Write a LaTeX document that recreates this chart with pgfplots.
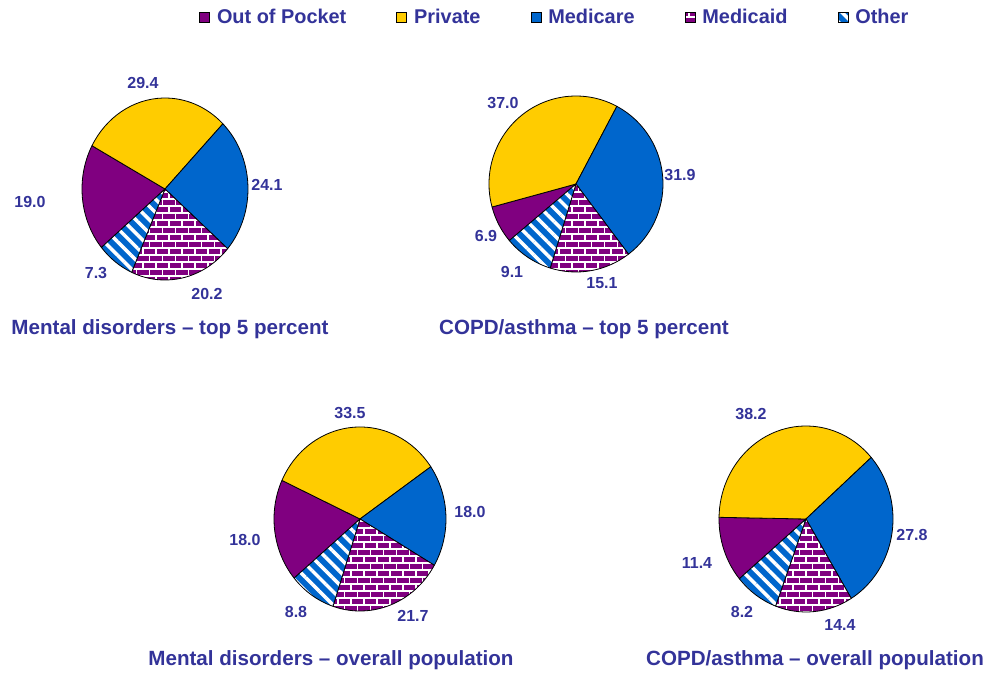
\documentclass[border=0pt]{standalone}
\usepackage{fontspec}
\setmainfont{Liberation Sans}
\usepackage{pgfplots}
\usepackage{pgfplotstable}
\pgfplotsset{compat=1.18}
\usetikzlibrary{patterns,patterns.meta}

\definecolor{oop}{RGB}{128,0,128}
\definecolor{priv}{RGB}{255,204,0}
\definecolor{mcare}{RGB}{0,102,204}
\definecolor{mcaid}{RGB}{128,0,128}
\definecolor{txt}{RGB}{51,51,153}

% brick pattern for Medicaid
\pgfdeclarepatternformonly{bricks13}{\pgfqpoint{-1pt}{-1pt}}{\pgfqpoint{14pt}{15pt}}{\pgfqpoint{13pt}{14pt}}{%
  \pgfsetlinewidth{1.4pt}%
  \pgfpathmoveto{\pgfqpoint{-1pt}{0pt}}\pgfpathlineto{\pgfqpoint{14pt}{0pt}}%
  \pgfpathmoveto{\pgfqpoint{-1pt}{7pt}}\pgfpathlineto{\pgfqpoint{14pt}{7pt}}%
  \pgfpathmoveto{\pgfqpoint{0pt}{0pt}}\pgfpathlineto{\pgfqpoint{0pt}{7pt}}%
  \pgfpathmoveto{\pgfqpoint{6.5pt}{7pt}}\pgfpathlineto{\pgfqpoint{6.5pt}{14pt}}%
  \pgfusepath{stroke}}

% shares in percent; slices run clockwise from 220 degrees
\pgfplotstableread{
source   mdtop copdtop mdall copdall
OOP      19.0  6.9     18.0  11.4
Private  29.4  37.0    33.5  38.2
Medicare 24.1  31.9    18.0  27.8
Medicaid 20.2  15.1    21.7  14.4
Other    7.3   9.1     8.8   8.2
}\shares

% label positions (pixels from top left)
\pgfplotstableread{
mdtopx mdtopy copdtopx copdtopy mdallx mdally copdallx copdally
30     202    486      236      245    540    697      563
143    83     503      103      350    413    751      414
267    185    680      175      470    512    912      535
207    294    602      283      413    616    840      625
96     273    512      272      296    612    742      612
}\labelpos

\tikzset{
  slice0/.style={fill=oop},
  slice1/.style={fill=priv},
  slice2/.style={fill=mcare},
  slice3/.style={fill=mcaid, postaction={pattern=bricks13, pattern color=white}},
  slice4/.style={fill=mcare, postaction={pattern={Lines[angle=-45,distance=9.5pt,line width=3.5pt]}, pattern color=white}},
  lbl/.style={font=\fontsize{16}{18}\selectfont\bfseries, text=txt, inner sep=0pt, anchor=center},
  ttl/.style={font=\fontsize{20.6}{24}\selectfont\bfseries, text=txt, inner sep=0pt, anchor=base},
}

% #1 column, #2 cx, #3 cy (from top), #4 rx, #5 ry
\newcommand\pie[5]{%
  \pgfplotsextra{%
    \pgfmathsetmacro\cx{#2}%
    \pgfmathsetmacro\cy{675-#3}%
    \gdef\ang{220}%
    \foreach \r in {0,...,4}{%
      \pgfplotstablegetelem{\r}{#1}\of\shares
      \pgfmathsetmacro\aend{\ang-3.6*\pgfplotsretval}%
      \path[slice\r, postaction={draw=black, line width=0.8pt, line join=round}]
        (\cx,\cy) -- ({\cx+#4*cos(\ang)},{\cy+#5*sin(\ang)})
        arc[start angle=\ang, end angle=\aend, x radius=#4pt, y radius=#5pt] -- cycle;
      \global\let\ang\aend
    }%
    \foreach \r in {0,...,4}{%
      \pgfplotstablegetelem{\r}{#1}\of\shares \let\val\pgfplotsretval
      \pgfplotstablegetelem{\r}{#1x}\of\labelpos \let\lx\pgfplotsretval
      \pgfplotstablegetelem{\r}{#1y}\of\labelpos \let\ly\pgfplotsretval
      \node[lbl] at (\lx,{675-\ly}) {\pgfmathprintnumber[fixed,fixed zerofill,precision=1]{\val}};
    }%
  }%
}

\pgfplotsset{
  sq/.style={legend image code/.code={\draw[##1, line width=0.8pt] (0pt,-5pt) rectangle (10pt,5pt);}},
  /pgf/number format/assume math mode=true,
}

\begin{document}
\begin{tikzpicture}
\begin{axis}[
  at={(0,0)}, anchor=south west,
  width=989pt, height=675pt, scale only axis,
  xmin=0, xmax=989, ymin=0, ymax=675,
  hide axis, clip=false,
  legend columns=5,
  legend style={at={(axis cs:199,658)}, anchor=west, draw=none, fill=white,
    inner sep=0pt, font=\fontsize{19.9}{22}\selectfont\bfseries, text=txt,
    /tikz/every odd column/.append style={column sep=7pt},
    /tikz/every even column/.append style={column sep=50pt},
    nodes={inner sep=0pt}},
]
\path (0,0) rectangle (989,675);
\addlegendimage{sq, fill=oop, draw=black}
\addlegendentry{Out of Pocket}
\addlegendimage{sq, fill=priv, draw=black}
\addlegendentry{Private}
\addlegendimage{sq, fill=mcare, draw=black}
\addlegendentry{Medicare}
\addlegendimage{sq, fill=mcaid, draw=black, postaction={pattern=bricks13, pattern color=white}}
\addlegendentry{Medicaid}
\addlegendimage{sq, fill=mcare, draw=black, postaction={pattern={Lines[angle=-45,distance=9.5pt,line width=3.5pt]}, pattern color=white}}
\addlegendentry{Other}

\pie{mdtop}{165}{189}{83}{91}
\pie{copdtop}{576}{184}{87}{88}
\pie{mdall}{360}{519}{86}{92}
\pie{copdall}{806}{519}{87}{93}

\node[ttl] at (170,{675-335}) {Mental disorders – top 5 percent};
\node[ttl] at (584,{675-335}) {COPD/asthma – top 5 percent};
\node[ttl] at (331,{675-666}) {Mental disorders – overall population};
\node[ttl] at (815,{675-666}) {COPD/asthma – overall population};
\end{axis}
\end{tikzpicture}
\end{document}
